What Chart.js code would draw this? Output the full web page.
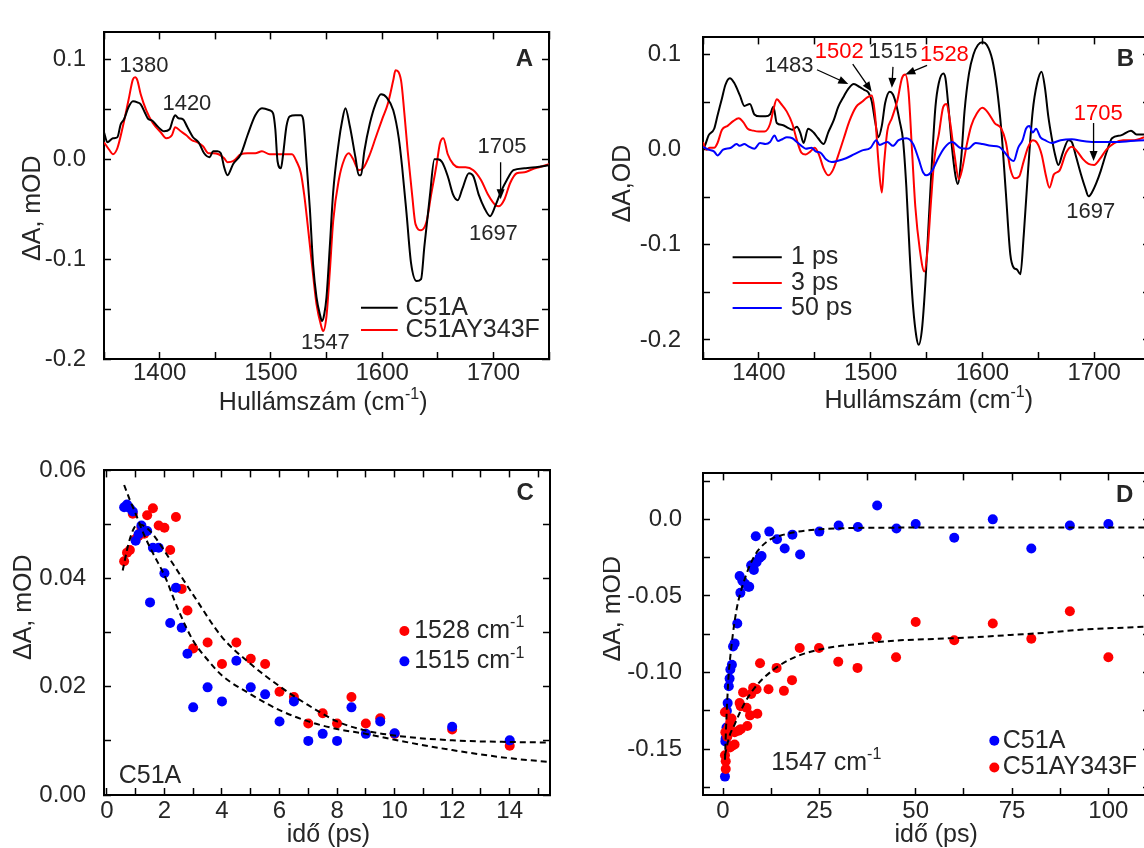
<!DOCTYPE html>
<html>
<head>
<meta charset="utf-8">
<script src="https://cdn.jsdelivr.net/npm/chart.js@4.4.1/dist/chart.umd.min.js"></script>
<style>
  html, body { margin: 0; padding: 0; background: #fff; }
  #page { position: relative; width: 1144px; height: 848px; overflow: hidden; }
  #page canvas { position: absolute; }
</style>
</head>
<body>
<div id="page">
  <canvas id="panelA" width="557" height="428" style="left:4px;top:-7px"></canvas>
  <canvas id="panelB" width="559" height="427" style="left:603px;top:-6px"></canvas>
  <canvas id="panelC" width="558" height="426" style="left:4px;top:431px"></canvas>
  <canvas id="panelD" width="559" height="426" style="left:603px;top:431px"></canvas>
</div>
<script>
// ---- data: spectra (wavenumber, dA) ----
const specA_C51A = [[1350,.027],[1353,.017],[1358,.021],[1362,.022],[1365,.035],[1368,.040],[1372,.052],[1376,.058],[1380,.057],[1383,.055],[1387,.046],[1390,.040],[1393,.039],[1398,.033],[1404,.028],[1409,.030],[1412,.040],[1414,.044],[1417,.041],[1421,.040],[1425,.032],[1430,.022],[1435,.017],[1440,.006],[1445,.002],[1448,.008],[1452,.008],[1455,.006],[1458,-.008],[1461,-.016],[1466,-.005],[1473,.005],[1479,.024],[1486,.044],[1492,.051],[1499,.049],[1502,.046],[1504,.030],[1506,-.002],[1509,-.009],[1511,.005],[1514,.033],[1517,.043],[1522,.044],[1527,.044],[1529,.040],[1532,-.002],[1535,-.049],[1538,-.106],[1541,-.138],[1544,-.155],[1546,-.162],[1548,-.155],[1550,-.138],[1553,-.087],[1556,-.033],[1561,.017],[1564,.038],[1567,.051],[1571,.033],[1576,.002],[1579,-.016],[1581,-.016],[1584,.008],[1589,.036],[1594,.055],[1599,.065],[1604,.062],[1610,.049],[1615,.021],[1618,-.008],[1622,-.055],[1626,-.104],[1631,-.122],[1635,-.120],[1638,-.087],[1643,-.036],[1647,0],[1650,0],[1654,-.003],[1659,-.017],[1664,-.036],[1668,-.041],[1672,-.030],[1678,-.014],[1682,-.017],[1687,-.036],[1692,-.049],[1697,-.057],[1702,-.046],[1707,-.032],[1712,-.021],[1718,-.011],[1728,-.009],[1738,-.008],[1750,-.006]];
const specA_Y343F = [[1350,.017],[1355,.009],[1358,.005],[1362,.011],[1367,.033],[1372,.059],[1376,.080],[1378,.082],[1380,.079],[1383,.065],[1388,.049],[1394,.036],[1401,.027],[1406,.021],[1411,.024],[1414,.032],[1419,.028],[1424,.024],[1429,.019],[1434,.017],[1439,.013],[1444,.006],[1448,.006],[1453,.005],[1458,.001],[1461,-.003],[1466,-.002],[1473,.005],[1479,.006],[1486,.006],[1492,.008],[1499,.005],[1506,.005],[1512,.005],[1519,.005],[1523,-.002],[1527,-.014],[1530,-.036],[1533,-.065],[1537,-.106],[1541,-.145],[1545,-.166],[1547,-.172],[1550,-.157],[1553,-.112],[1556,-.062],[1561,-.021],[1566,0],[1570,.006],[1574,0],[1579,-.011],[1583,-.009],[1589,.005],[1594,.021],[1600,.040],[1605,.055],[1610,.079],[1612,.089],[1617,.079],[1620,.046],[1623,.008],[1627,-.036],[1630,-.065],[1635,-.071],[1640,-.062],[1644,-.036],[1649,-.005],[1652,.016],[1655,.021],[1659,.005],[1664,-.005],[1669,-.008],[1675,-.008],[1682,-.011],[1689,-.021],[1695,-.035],[1702,-.046],[1705,-.047],[1710,-.040],[1715,-.024],[1721,-.014],[1728,-.013],[1735,-.010],[1741,-.008],[1750,-.005]];

const specB_1ps = [[1350,0],[1352,.005],[1355,.015],[1360,.022],[1363,.036],[1367,.054],[1370,.068],[1374,.075],[1378,.070],[1383,.057],[1387,.046],[1392,.048],[1396,.037],[1401,.035],[1406,.035],[1410,.037],[1413,.045],[1416,.028],[1421,.026],[1426,.023],[1430,.021],[1434,.024],[1437,.018],[1440,.007],[1444,.022],[1449,.018],[1453,.012],[1458,.006],[1462,.018],[1467,.031],[1471,.045],[1476,.056],[1480,.064],[1485,.069],[1490,.066],[1494,.063],[1498,.060],[1501,.051],[1504,.030],[1507,.013],[1510,.025],[1513,.049],[1517,.061],[1520,.058],[1523,.047],[1526,.030],[1529,.010],[1532,-.040],[1535,-.110],[1538,-.165],[1541,-.197],[1543,-.205],[1546,-.188],[1549,-.140],[1552,-.075],[1555,-.010],[1558,.045],[1561,.070],[1565,.080],[1567,.075],[1570,.040],[1573,0],[1576,-.028],[1578,-.036],[1581,-.010],[1584,.040],[1588,.080],[1592,.100],[1596,.110],[1600,.113],[1604,.110],[1609,.094],[1613,.065],[1617,.020],[1621,-.045],[1625,-.110],[1628,-.124],[1631,-.126],[1634,-.131],[1637,-.090],[1641,-.020],[1645,.040],[1649,.070],[1653,.082],[1656,.065],[1659,.035],[1662,.013],[1665,-.005],[1668,-.016],[1672,-.003],[1677,.010],[1680,.008],[1684,-.008],[1688,-.025],[1692,-.040],[1695,-.049],[1698,-.045],[1702,-.035],[1706,-.022],[1711,-.003],[1716,.012],[1724,.015],[1733,.020],[1738,.016],[1750,.016]];
const specB_3ps = [[1350,.008],[1353,0],[1356,.002],[1360,.002],[1363,.007],[1367,.021],[1372,.025],[1377,.030],[1382,.033],[1386,.029],[1390,.022],[1395,.020],[1400,.019],[1405,.019],[1410,.027],[1413,.042],[1416,.053],[1420,.048],[1425,.040],[1430,.027],[1434,.010],[1438,-.003],[1442,-.005],[1446,-.002],[1450,.002],[1454,-.006],[1458,-.020],[1462,-.027],[1466,-.022],[1471,-.006],[1476,.012],[1481,.030],[1487,.045],[1492,.050],[1497,.055],[1501,.057],[1504,.036],[1507,-.013],[1510,-.045],[1512,-.015],[1515,.020],[1519,.033],[1524,.052],[1528,.075],[1531,.079],[1534,.060],[1537,0],[1540,-.060],[1544,-.105],[1548,-.128],[1551,-.105],[1554,-.055],[1557,-.010],[1561,.016],[1565,.045],[1568,.048],[1571,.030],[1575,-.005],[1579,-.031],[1582,-.020],[1586,.005],[1590,.025],[1595,.038],[1600,.044],[1605,.039],[1611,.028],[1617,.022],[1621,.008],[1625,-.020],[1629,-.030],[1633,-.028],[1637,-.012],[1641,.003],[1645,.010],[1649,.007],[1653,-.005],[1657,-.028],[1660,-.040],[1664,-.026],[1669,-.022],[1675,-.003],[1680,.003],[1685,-.002],[1690,-.010],[1695,-.015],[1700,-.016],[1705,-.010],[1711,0],[1718,.007],[1726,.010],[1736,.010],[1745,.013],[1750,.014]];
const specB_50ps = [[1350,.003],[1355,0],[1360,-.002],[1363,-.006],[1368,0],[1375,.002],[1380,.006],[1383,.004],[1387,.006],[1390,.004],[1396,.001],[1401,.007],[1406,.006],[1410,.008],[1414,.015],[1417,.009],[1421,.011],[1425,.013],[1430,.012],[1434,.008],[1438,.004],[1442,.001],[1447,.002],[1451,-.002],[1455,-.003],[1460,-.010],[1465,-.013],[1470,-.012],[1478,-.009],[1485,-.005],[1492,-.001],[1500,.002],[1505,.010],[1508,.005],[1515,.008],[1520,.004],[1525,.010],[1532,.012],[1538,.006],[1543,-.010],[1547,-.024],[1550,-.027],[1555,-.022],[1560,-.010],[1566,.002],[1573,.008],[1580,.002],[1587,.001],[1594,.007],[1600,.006],[1608,.004],[1615,.003],[1620,-.003],[1625,-.010],[1628,-.012],[1632,.002],[1636,.010],[1639,.022],[1642,.025],[1645,.018],[1648,.022],[1652,.013],[1656,.010],[1662,.007],[1670,.010],[1680,.011],[1690,.009],[1700,.008],[1720,.008],[1745,.010],[1750,.010]];

// ---- data: kinetics (time ps, dA) ----
const kinC_1528 = [[0.6,.0432],[0.7,.0448],[0.8,.0453],[0.9,.0520],[1.0,.0473],[1.1,.0479],[1.2,.0494],[1.3,.0483],[1.4,.0517],[1.6,.0530],[1.8,.0498],[2.0,.0494],[2.2,.0453],[2.4,.0514],[2.6,.0381],[2.8,.0341],[3.0,.0271],[3.5,.0282],[4.0,.0242],[4.5,.0282],[5.0,.0252],[5.5,.0242],[6.0,.0191],[6.5,.0181],[7.0,.0132],[7.5,.0151],[8.0,.0132],[8.5,.0181],[9.0,.0132],[9.5,.0142],[10,.0113],[12,.0121],[14,.0091]];
const kinC_1515 = [[0.6,.0532],[0.7,.0537],[0.8,.0530],[0.9,.0524],[1.0,.0470],[1.1,.0482],[1.2,.0498],[1.4,.0488],[1.5,.0356],[1.6,.0457],[1.8,.0457],[2.0,.0410],[2.2,.0318],[2.4,.0383],[2.6,.0309],[2.8,.0261],[3.0,.0162],[3.5,.0199],[4.0,.0173],[4.5,.0248],[5.0,.0199],[5.5,.0186],[6.0,.0136],[6.5,.0173],[7.0,.0100],[7.5,.0113],[8.0,.0100],[8.5,.0162],[9.0,.0113],[9.5,.0136],[10,.0114],[12,.0126],[14,.0101]];
const fitC_1515 = [[0.6,.0573],[0.8,.0545],[1.0,.0520],[1.3,.0480],[1.6,.0447],[2.0,.0406],[2.5,.0340],[3.0,.0285],[3.5,.0250],[4.0,.0221],[5.0,.0186],[6.0,.0157],[7.0,.0136],[8.0,.0122],[9.0,.0113],[10,.0102],[12,.0083],[14,.0068],[15.4,.0061]];
const fitC_1528 = [[0.55,.0415],[0.75,.0464],[0.95,.0494],[1.15,.0500],[1.4,.0493],[1.6,.0482],[2.2,.0435],[3.0,.0370],[4.0,.0292],[5.0,.0242],[6.0,.0201],[7.0,.0166],[8.0,.0136],[9.0,.0119],[10,.0110],[12,.0101],[14,.0098],[15.4,.0097]];

const kinD_C51A = [[0.5,-.168],[0.6,-.145],[0.7,-.143],[0.9,-.136],[1.0,-.125],[1.2,-.120],[1.5,-.109],[1.7,-.104],[1.9,-.098],[2.3,-.095],[2.6,-.083],[3.0,-.081],[3.7,-.068],[4.3,-.037],[4.5,-.048],[5.0,-.040],[5.7,-.042],[6.5,-.044],[6.8,-.044],[7.3,-.030],[8.0,-.033],[8.5,-.011],[8.7,-.028],[9.5,-.025],[10,-.024],[12,-.008],[14,-.013],[16,-.019],[18,-.010],[20,-.023],[25,-.008],[30,-.004],[35,-.005],[40,.009],[45,-.006],[50,-.003],[60,-.012],[70,0],[80,-.019],[90,-.004],[100,-.003]];
const kinD_Y343F = [[0.5,-.126],[0.5,-.154],[0.6,-.139],[0.7,-.158],[0.7,-.163],[1.1,-.142],[1.3,-.137],[1.6,-.135],[1.8,-.149],[1.9,-.132],[2.2,-.130],[2.3,-.148],[3.0,-.147],[3.0,-.139],[4.0,-.138],[4.3,-.120],[4.6,-.122],[4.6,-.137],[5.2,-.113],[6.1,-.123],[6.3,-.135],[7.0,-.128],[7.3,-.114],[7.8,-.110],[8.7,-.111],[8.9,-.127],[9.6,-.094],[11.8,-.111],[13.9,-.097],[15.8,-.112],[17.9,-.105],[19.9,-.084],[24.9,-.084],[29.9,-.093],[34.9,-.097],[39.9,-.077],[44.9,-.090],[50,-.067],[60,-.079],[70,-.068],[80,-.078],[90,-.060],[100,-.090]];
const fitD_C51A = [[0.5,-.157],[0.8,-.135],[1.1,-.118],[1.5,-.100],[2.0,-.087],[2.6,-.074],[3.5,-.059],[4.4,-.049],[5.9,-.037],[7.3,-.028],[9.2,-.020],[12,-.0135],[15.8,-.0100],[19.6,-.0080],[25,-.0065],[33,-.0057],[46,-.0054],[65,-.0053],[111,-.0053]];
const fitD_Y343F = [[0.5,-.154],[1.6,-.142],[3,-.134],[4.4,-.126],[6.3,-.117],[8.2,-.110],[11,-.1025],[14.9,-.095],[19.6,-.089],[27,-.084],[36.6,-.081],[46,-.079],[55.5,-.078],[65,-.077],[74.5,-.0755],[84,-.074],[93.4,-.072],[111,-.070]];

// ---- tick values and labels ----
const specTicksX = [1350,1400,1450,1500,1550,1600,1650,1700,1750];
const specLabelsX = ['','1400','','1500','','1600','','1700',''];
const specTicksY = [-0.2,-0.15,-0.1,-0.05,0,0.05,0.1];
const specLabelsY = ['-0.2','','-0.1','','0.0','','0.1'];
const cTicksX = [0,1,2,3,4,5,6,7,8,9,10,11,12,13,14,15];
const cLabelsX = ['0','','2','','4','','6','','8','','10','','12','','14',''];
const cTicksY = [0,0.01,0.02,0.03,0.04,0.05,0.06];
const cLabelsY = ['0.00','','0.02','','0.04','','0.06'];
const dTicksX = [0,12.5,25,37.5,50,62.5,75,87.5,100];
const dLabelsX = ['0','','25','','50','','75','','100'];
const dTicksY = [-0.175,-0.15,-0.125,-0.1,-0.075,-0.05,-0.025,0,0.025];
const dLabelsY = ['','-0.15','','-0.10','','-0.05','','0.0',''];

const FONT = '"Liberation Sans", Arial, sans-serif';
const INK = '#262626';
const RED = '#ff0000';
const BLUE = '#0000ff';

function xy(pairs) { return pairs.map(p => ({ x: p[0], y: p[1] })); }
function fixedTicks(values) { return s => { s.ticks = values.map(v => ({ value: v })); }; }

function makeScales(c) {
  const grid = { display: true, drawOnChartArea: false, drawTicks: true, tickLength: -7, tickWidth: 1.5, tickColor: '#000' };
  const border = { display: true, color: '#000', width: 2 };
  const font = { family: FONT, size: 24 };
  const quiet = { display: false };
  return {
    x: { type: 'linear', position: 'bottom', min: c.xMin, max: c.xMax, border, grid,
      afterBuildTicks: fixedTicks(c.xTicks), afterFit: s => { s.height = 62; },
      ticks: { autoSkip: false, maxRotation: 0, color: INK, font, padding: c.xPad, callback: (v, i) => c.xLabels[i] } },
    x2: { type: 'linear', position: 'top', min: c.xMin, max: c.xMax, border, grid,
      afterBuildTicks: fixedTicks(c.xTicks), afterFit: s => { s.height = 22; }, ticks: quiet },
    y: { type: 'linear', position: 'left', min: c.yMin, max: c.yMax, border, grid,
      afterBuildTicks: fixedTicks(c.yTicks), afterFit: s => { s.width = 100; },
      ticks: { autoSkip: false, color: INK, font, padding: c.yPad, callback: (v, i) => c.yLabels[i] } },
    y2: { type: 'linear', position: 'right', min: c.yMin, max: c.yMax, border, grid,
      afterBuildTicks: fixedTicks(c.yTicks), afterFit: s => { s.width = 12; }, ticks: quiet }
  };
}

// text, arrows and legend keys placed in data units
const notes = {
  id: 'notes',
  afterDatasetsDraw(chart, args, o) {
    const { ctx } = chart;
    const X = v => chart.scales.x.getPixelForValue(v);
    const Y = v => chart.scales.y.getPixelForValue(v);
    ctx.save();
    (o.keys || []).forEach(k => {
      if (k.line) {
        ctx.strokeStyle = k.color; ctx.lineWidth = 2;
        ctx.beginPath(); ctx.moveTo(X(k.line[0]), Y(k.y)); ctx.lineTo(X(k.line[1]), Y(k.y)); ctx.stroke();
      } else {
        ctx.fillStyle = k.color;
        ctx.beginPath(); ctx.arc(X(k.dot), Y(k.y), 5, 0, Math.PI * 2); ctx.fill();
      }
    });
    (o.arrows || []).forEach(a => {
      const x1 = X(a[0]), y1 = Y(a[1]), x2 = X(a[2]), y2 = Y(a[3]);
      const ang = Math.atan2(y2 - y1, x2 - x1);
      ctx.strokeStyle = '#000'; ctx.fillStyle = '#000'; ctx.lineWidth = 1.3;
      ctx.beginPath(); ctx.moveTo(x1, y1); ctx.lineTo(x2 - 6 * Math.cos(ang), y2 - 6 * Math.sin(ang)); ctx.stroke();
      ctx.beginPath(); ctx.moveTo(x2, y2);
      ctx.lineTo(x2 - 10 * Math.cos(ang) + 4 * Math.sin(ang), y2 - 10 * Math.sin(ang) - 4 * Math.cos(ang));
      ctx.lineTo(x2 - 10 * Math.cos(ang) - 4 * Math.sin(ang), y2 - 10 * Math.sin(ang) + 4 * Math.cos(ang));
      ctx.closePath(); ctx.fill();
    });
    (o.texts || []).forEach(t => {
      const size = t.size || 22;
      const main = (t.bold ? 'bold ' : '') + size + 'px ' + FONT;
      const small = Math.round(size * 0.62) + 'px ' + FONT;
      ctx.font = main;
      const w1 = ctx.measureText(t.text).width;
      const w3 = t.tail ? ctx.measureText(t.tail).width : 0;
      ctx.font = small;
      const w2 = t.sup ? ctx.measureText(t.sup).width : 0;
      const x0 = t.align === 'left' ? 0 : -(w1 + w2 + w3) / 2;
      ctx.save();
      ctx.translate(X(t.x), Y(t.y));
      if (t.rot) ctx.rotate(t.rot * Math.PI / 180);
      ctx.fillStyle = t.color || INK; ctx.textBaseline = 'middle'; ctx.textAlign = 'left';
      ctx.font = main; ctx.fillText(t.text, x0, 0);
      if (t.sup) { ctx.font = small; ctx.fillText(t.sup, x0 + w1, -size * 0.33); }
      if (t.tail) { ctx.font = main; ctx.fillText(t.tail, x0 + w1 + w2, 0); }
      ctx.restore();
    });
    ctx.restore();
  }
};

function spectrum(label, pairs, color) {
  return { label, data: xy(pairs), showLine: true, borderColor: color, borderWidth: 2, pointRadius: 0, cubicInterpolationMode: 'monotone' };
}
function dots(label, pairs, color, order) {
  return { label, data: xy(pairs), showLine: false, pointRadius: 5, pointBackgroundColor: color, pointBorderWidth: 0, order };
}
function fit(label, pairs) {
  return { label, data: xy(pairs), showLine: true, borderColor: '#000', borderWidth: 2, borderDash: [6, 4], pointRadius: 0, cubicInterpolationMode: 'monotone', order: 0 };
}

function panel(id, datasets, scaleCfg, noteCfg) {
  return new Chart(document.getElementById(id), {
    type: 'scatter',
    data: { datasets },
    options: {
      responsive: false, animation: false, events: [],
      layout: { padding: 0 },
      plugins: { legend: { display: false }, tooltip: { enabled: false }, notes: noteCfg },
      scales: makeScales(scaleCfg)
    },
    plugins: [notes]
  });
}

panel('panelA',
  [spectrum('C51A', specA_C51A, '#000'), spectrum('C51AY343F', specA_Y343F, RED)],
  { xMin: 1350, xMax: 1750, xTicks: specTicksX, xLabels: specLabelsX, xPad: 7,
    yMin: -0.2, yMax: 0.127, yTicks: specTicksY, yLabels: specLabelsY, yPad: 25 },
  {
    texts: [
      { text: '1380', x: 1386, y: 0.0934 },
      { text: '1420', x: 1424.5, y: 0.0554 },
      { text: '1705', x: 1707.7, y: 0.0126 },
      { text: '1697', x: 1700, y: -0.0745 },
      { text: '1547', x: 1549, y: -0.1836 },
      { text: 'A', x: 1728, y: 0.0997, bold: true, size: 24 },
      { text: 'C51A', x: 1621, y: -0.1488, align: 'left', size: 25 },
      { text: 'C51AY343F', x: 1621, y: -0.171, align: 'left', size: 25 },
      { text: '\u0394A, mOD', x: 1286, y: -0.049, rot: -90, size: 25 },
      { text: 'Hullámszám (cm', sup: '-1', tail: ')', x: 1547, y: -0.2437, size: 25 }
    ],
    arrows: [[1706.5, -0.003, 1706.5, -0.040]],
    keys: [
      { line: [1581, 1614], y: -0.1488, color: '#000' },
      { line: [1581, 1614], y: -0.171, color: RED }
    ]
  });

panel('panelB',
  [spectrum('50 ps', specB_50ps, BLUE), spectrum('3 ps', specB_3ps, RED), spectrum('1 ps', specB_1ps, '#000')],
  { xMin: 1350, xMax: 1750, xTicks: specTicksX, xLabels: specLabelsX, xPad: 7,
    yMin: -0.22, yMax: 0.118, yTicks: specTicksY, yLabels: specLabelsY, yPad: 29 },
  {
    texts: [
      { text: '1483', x: 1427, y: 0.088 },
      { text: '1502', x: 1472, y: 0.1025, color: RED },
      { text: '1515', x: 1520, y: 0.1025 },
      { text: '1528', x: 1566, y: 0.100, color: RED },
      { text: '1705', x: 1703.6, y: 0.038, color: RED },
      { text: '1697', x: 1697, y: -0.065 },
      { text: 'B', x: 1728, y: 0.095, bold: true, size: 24 },
      { text: '1 ps', x: 1428.8, y: -0.113, align: 'left', size: 25 },
      { text: '3 ps', x: 1428.8, y: -0.140, align: 'left', size: 25 },
      { text: '50 ps', x: 1428.8, y: -0.1665, align: 'left', size: 25 },
      { text: '\u0394A,OD', x: 1278.4, y: -0.0357, rot: -90, size: 25 },
      { text: 'Hullámszám (cm', sup: '-1', tail: ')', x: 1552, y: -0.264, size: 25 }
    ],
    arrows: [
      [1452, 0.084, 1480, 0.069],
      [1484, 0.090, 1501, 0.061],
      [1520, 0.087, 1519, 0.065],
      [1550.5, 0.0885, 1531, 0.079],
      [1699.5, 0.028, 1699.5, -0.012]
    ],
    keys: [
      { line: [1376.5, 1420.5], y: -0.113, color: '#000' },
      { line: [1376.5, 1420.5], y: -0.140, color: RED },
      { line: [1376.5, 1420.5], y: -0.1665, color: BLUE }
    ]
  });

panel('panelC',
  [fit('fit 1528', fitC_1528), fit('fit 1515', fitC_1515),
   dots('1515 cm-1', kinC_1515, BLUE, 1), dots('1528 cm-1', kinC_1528, RED, 2)],
  { xMin: -0.1, xMax: 15.4, xTicks: cTicksX, xLabels: cLabelsX, xPad: 9,
    yMin: 0, yMax: 0.06, yTicks: cTicksY, yLabels: cLabelsY, yPad: 25 },
  {
    texts: [
      { text: 'C', x: 14.54, y: 0.0557, bold: true, size: 24 },
      { text: 'C51A', x: 0.41, y: 0.0034, align: 'left', size: 25 },
      { text: '1528 cm', sup: '-1', x: 10.68, y: 0.0303, align: 'left', size: 25 },
      { text: '1515 cm', sup: '-1', x: 10.68, y: 0.0247, align: 'left', size: 25 },
      { text: '\u0394A, mOD', x: -2.87, y: 0.0347, rot: -90, size: 25 },
      { text: 'idő (ps)', x: 7.7, y: -0.0074, size: 25 }
    ],
    keys: [
      { dot: 10.34, y: 0.0303, color: RED },
      { dot: 10.34, y: 0.0247, color: BLUE }
    ]
  });

panel('panelD',
  [fit('fit C51A', fitD_C51A), fit('fit C51AY343F', fitD_Y343F),
   dots('C51AY343F', kinD_Y343F, RED, 1), dots('C51A', kinD_C51A, BLUE, 2)],
  { xMin: -5.2, xMax: 110.8, xTicks: dTicksX, xLabels: dLabelsX, xPad: 9,
    yMin: -0.18, yMax: 0.03, yTicks: dTicksY, yLabels: dLabelsY, yPad: 28 },
  {
    texts: [
      { text: 'D', x: 104.2, y: 0.0154, bold: true, size: 24 },
      { text: '1547 cm', sup: '-1', x: 12.5, y: -0.159, align: 'left', size: 25 },
      { text: 'C51A', x: 72.6, y: -0.1445, align: 'left', size: 25 },
      { text: 'C51AY343F', x: 72.6, y: -0.162, align: 'left', size: 25 },
      { text: '\u0394A, mOD', x: -28.6, y: -0.0584, rot: -90, size: 25 },
      { text: 'idő (ps)', x: 55.3, y: -0.206, size: 25 }
    ],
    keys: [
      { dot: 70.4, y: -0.1445, color: BLUE },
      { dot: 70.4, y: -0.162, color: RED }
    ]
  });
</script>
</body>
</html>
